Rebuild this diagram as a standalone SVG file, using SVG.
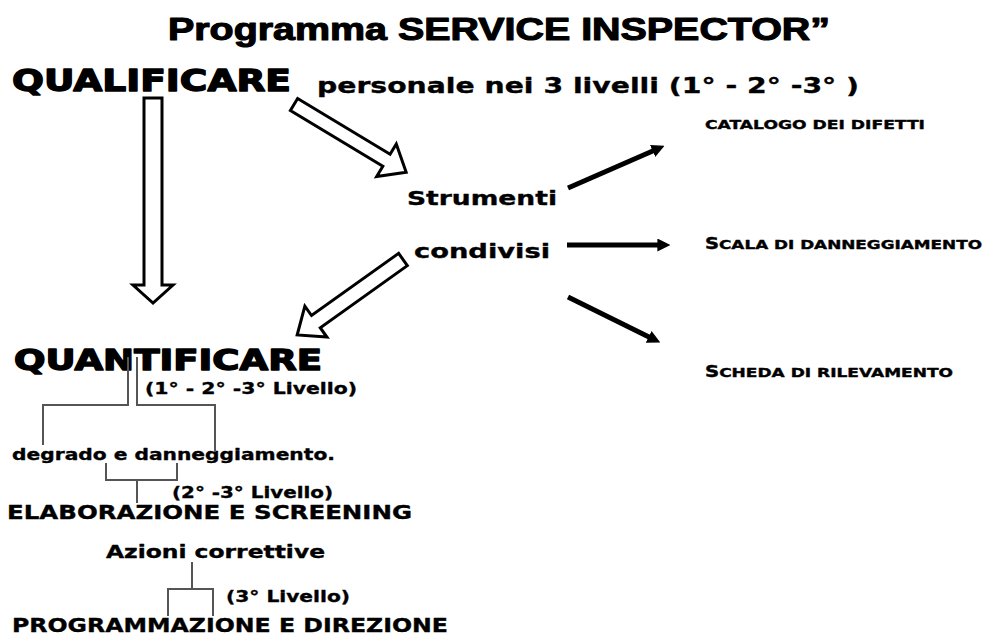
<svg xmlns="http://www.w3.org/2000/svg" width="986" height="635" viewBox="0 0 986 635">
<style>
.t{font-family:"DejaVu Sans","Liberation Sans",sans-serif;font-weight:bold;fill:#000;stroke:#000;stroke-width:0.35;stroke-linejoin:round}
.big{stroke-width:1.4}
.c{font-family:"Liberation Sans","DejaVu Sans",sans-serif;font-weight:bold;fill:#000;stroke:#000;stroke-width:1.1;stroke-linejoin:round}
.sm{stroke-width:0.4}
.hollow{fill:#fff;stroke:#000;stroke-width:3;stroke-linejoin:miter}
.solid{stroke:#000;stroke-width:5;fill:none}
.gray{stroke:#555;stroke-width:2;fill:none}
</style>
<defs>
<marker id="ah" viewBox="0 0 10 10" refX="2" refY="5" markerWidth="2.6" markerHeight="2.6" orient="auto" markerUnits="strokeWidth">
<path d="M0,0 L10,5 L0,10 Z" fill="#000"/>
</marker>
</defs>
<rect width="986" height="635" fill="#fff"/>
<g id="title"><text class="c" x="168" y="40" font-size="31" textLength="662" lengthAdjust="spacingAndGlyphs">Programma SERVICE INSPECTOR”</text></g>
<g id="qualificare"><text class="t big" x="12" y="91" font-size="30" textLength="279" lengthAdjust="spacingAndGlyphs">QUALIFICARE</text></g>
<g id="personale"><text class="t" x="317" y="93" font-size="22" textLength="542" lengthAdjust="spacingAndGlyphs">personale nei 3 livelli  (1° - 2° -3° )</text></g>
<g id="strumenti"><text class="t" x="407" y="205" font-size="20" textLength="150" lengthAdjust="spacingAndGlyphs">Strumenti</text>
<text class="t" x="414" y="258" font-size="20" textLength="136" lengthAdjust="spacingAndGlyphs">condivisi</text></g>
<g id="catalogo"><text class="t sm" x="705" y="129" font-size="13" textLength="220" lengthAdjust="spacingAndGlyphs">CATALOGO DEI DIFETTI</text></g>
<g id="scala"><text class="t sm" x="705" y="249" font-size="13" textLength="277" lengthAdjust="spacingAndGlyphs"><tspan font-size="15">S</tspan>CALA DI DANNEGGIAMENTO</text></g>
<g id="scheda"><text class="t sm" x="705" y="377" font-size="13" textLength="248" lengthAdjust="spacingAndGlyphs"><tspan font-size="15">S</tspan>CHEDA DI RILEVAMENTO</text></g>
<g id="quantificare"><text class="t big" x="14" y="370" font-size="28" textLength="308" lengthAdjust="spacingAndGlyphs">QUANTIFICARE</text>
<text class="t" x="145" y="394" font-size="16" textLength="212" lengthAdjust="spacingAndGlyphs">(1° - 2° -3° Livello)</text></g>
<g id="degrado"><text class="t" x="12" y="460" font-size="16" textLength="323" lengthAdjust="spacingAndGlyphs">degrado e danneggiamento.</text></g>
<g id="elaborazione"><text class="t" x="172" y="498" font-size="16" textLength="161" lengthAdjust="spacingAndGlyphs">(2° -3° Livello)</text>
<text class="t" x="7" y="519" font-size="19" textLength="405" lengthAdjust="spacingAndGlyphs">ELABORAZIONE E SCREENING</text></g>
<g id="azioni"><text class="t" x="106" y="558" font-size="17" textLength="219" lengthAdjust="spacingAndGlyphs">Azioni correttive</text>
<text class="t" x="226" y="602" font-size="16" textLength="124" lengthAdjust="spacingAndGlyphs">(3° Livello)</text></g>
<g id="programmazione"><text class="t" x="12" y="632" font-size="19" textLength="436" lengthAdjust="spacingAndGlyphs">PROGRAMMAZIONE E DIREZIONE</text></g>
<g id="connectors">
<path class="hollow" transform="translate(153,98) rotate(90)" d="M0,-9 L187,-9 L187,-20 L205,0 L187,20 L187,9 L0,9 Z"/>
<path class="hollow" transform="translate(294,104.5) rotate(31.1)" d="M0,-7 L108,-7 L108,-19 L131,0 L108,19 L108,7 L0,7 Z"/>
<path class="hollow" transform="translate(403,259.5) rotate(144.5)" d="M0,-7.5 L107,-7.5 L107,-19 L130,0 L107,19 L107,7.5 L0,7.5 Z"/>
<line class="solid" x1="568" y1="188" x2="655" y2="150" marker-end="url(#ah)"/>
<line class="solid" x1="567" y1="245" x2="660" y2="245" marker-end="url(#ah)"/>
<line class="solid" x1="568" y1="297" x2="651" y2="338" marker-end="url(#ah)"/>
<path class="gray" d="M128,357 V405 H43 V445"/>
<path class="gray" d="M137,357 V405 H215 V452"/>
<path class="gray" d="M106,463 V480 H177 V463 M137,480 V503"/>
<path class="gray" d="M192,562 V589 M168,616 V589 H213 V616"/>
</g>
</svg>
